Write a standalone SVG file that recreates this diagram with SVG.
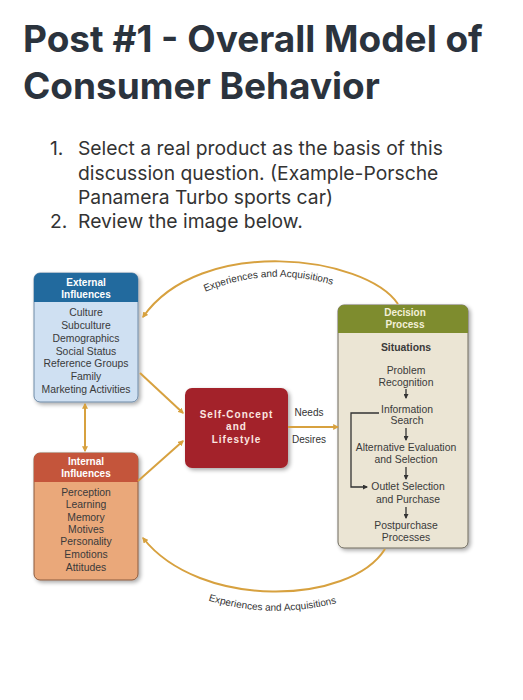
<svg xmlns="http://www.w3.org/2000/svg" width="523" height="700" viewBox="0 0 523 700">
<defs>
<marker id="ag" viewBox="0 0 10 10" refX="8" refY="5" markerWidth="6" markerHeight="6" orient="auto-start-reverse" markerUnits="userSpaceOnUse"><path d="M0,0 L10,5 L0,10 z" fill="#d7a13f"/></marker>
<marker id="ak" viewBox="0 0 10 10" refX="8" refY="5" markerWidth="5" markerHeight="5" orient="auto" markerUnits="userSpaceOnUse"><path d="M0,0 L10,5 L0,10 z" fill="#333"/></marker>
<filter id="sh" x="-10%" y="-10%" width="125%" height="125%"><feGaussianBlur in="SourceAlpha" stdDeviation="2"/><feOffset dx="1.5" dy="2" result="b"/><feComponentTransfer><feFuncA type="linear" slope="0.35"/></feComponentTransfer><feMerge><feMergeNode/><feMergeNode in="SourceGraphic"/></feMerge></filter>
<path id="tp1" d="M 196 296 Q 268 262 342 288"/>
<path id="tp2" d="M 201 598 Q 270 622 344 601"/>
</defs>
<style>
.title{font-family:Inter,"Liberation Sans",sans-serif;font-weight:700;font-size:37px;fill:#2b333d}
.li{font-family:Inter,"Liberation Sans",sans-serif;font-size:19.3px;fill:#333}
.hd{font-family:"Liberation Sans",Arial,sans-serif;font-weight:700;font-size:10px;fill:#fff;text-anchor:middle}
.it{font-family:"Liberation Sans",Arial,sans-serif;font-size:10.4px;fill:#3a3a3a;text-anchor:middle}
.lab{font-family:"Liberation Sans",Arial,sans-serif;font-size:10px;fill:#333}
.gold{fill:none;stroke:#d7a13f;stroke-width:2}
.blk{fill:none;stroke:#333;stroke-width:1.3}
</style>
<rect width="523" height="700" fill="#fff"/>
<text class="title" x="23" y="52">Post #1 - Overall Model of</text>
<text class="title" x="23" y="99">Consumer Behavior</text>
<text class="li" x="50" y="155">1.</text>
<text class="li" x="78" y="155">Select a real product as the basis of this</text>
<text class="li" x="78" y="180">discussion question. (Example-Porsche</text>
<text class="li" x="78" y="204">Panamera Turbo sports car)</text>
<text class="li" x="50" y="228">2.</text>
<text class="li" x="78" y="228">Review the image below.</text>

<g id="external">
<g filter="url(#sh)">
<rect x="34" y="273" width="104" height="129" rx="6" fill="#cfe0f2" stroke="#6e8aa6" stroke-width="1"/>
<path d="M34,302 V279 a6,6 0 0 1 6,-6 H132 a6,6 0 0 1 6,6 V302 Z" fill="#236a9e"/>
</g>
<text class="hd" x="86" y="286">External</text>
<text class="hd" x="86" y="298">Influences</text>
<text class="it" x="86" y="316">Culture</text>
<text class="it" x="86" y="329">Subculture</text>
<text class="it" x="86" y="342">Demographics</text>
<text class="it" x="86" y="355">Social Status</text>
<text class="it" x="86" y="367">Reference Groups</text>
<text class="it" x="86" y="380">Family</text>
<text class="it" x="86" y="393">Marketing Activities</text>
</g>

<g id="internal">
<g filter="url(#sh)">
<rect x="34" y="453" width="104" height="127" rx="6" fill="#eaa87a" stroke="#8a5a3e" stroke-width="1"/>
<path d="M34,482 V459 a6,6 0 0 1 6,-6 H132 a6,6 0 0 1 6,6 V482 Z" fill="#c4553a"/>
</g>
<text class="hd" x="86" y="465">Internal</text>
<text class="hd" x="86" y="477">Influences</text>
<text class="it" x="86" y="496">Perception</text>
<text class="it" x="86" y="508">Learning</text>
<text class="it" x="86" y="521">Memory</text>
<text class="it" x="86" y="533">Motives</text>
<text class="it" x="86" y="545">Personality</text>
<text class="it" x="86" y="558">Emotions</text>
<text class="it" x="86" y="571">Attitudes</text>
</g>

<g id="self">
<rect x="185" y="388" width="103" height="80" rx="7" fill="#a3222a" filter="url(#sh)"/>
<text class="hd" x="236.5" y="418" style="letter-spacing:1px;fill:#fbe6e0">Self-Concept</text>
<text class="hd" x="236.5" y="430" style="letter-spacing:1px;fill:#fbe6e0">and</text>
<text class="hd" x="236.5" y="443" style="letter-spacing:1px;fill:#fbe6e0">Lifestyle</text>
</g>

<g id="decision">
<g filter="url(#sh)">
<rect x="338" y="305" width="130" height="243" rx="6" fill="#ebe5d4" stroke="#6e6a5e" stroke-width="1"/>
<path d="M338,333 V311 a6,6 0 0 1 6,-6 H462 a6,6 0 0 1 6,6 V333 Z" fill="#7e8c2f"/>
</g>
<text class="hd" x="405" y="316" style="fill:#f3f0d8">Decision</text>
<text class="hd" x="405" y="328" style="fill:#f3f0d8">Process</text>
<text class="it" x="406" y="351" style="font-weight:700">Situations</text>
<text class="it" x="406" y="374">Problem</text>
<text class="it" x="406" y="386">Recognition</text>
<text class="it" x="407" y="413">Information</text>
<text class="it" x="407" y="424">Search</text>
<text class="it" x="406" y="451">Alternative Evaluation</text>
<text class="it" x="406" y="463">and Selection</text>
<text class="it" x="408" y="490">Outlet Selection</text>
<text class="it" x="408" y="503">and Purchase</text>
<text class="it" x="406" y="529">Postpurchase</text>
<text class="it" x="406" y="541">Processes</text>
</g>

<g id="connectors">
<path class="gold" d="M 398 304 C 365 255, 200 235, 143 317" marker-end="url(#ag)"/>
<path class="gold" d="M 385 549 C 350 605, 200 610, 143 538" marker-end="url(#ag)"/>
<path class="gold" d="M 140 373 L 183 413" marker-end="url(#ag)"/>
<path class="gold" d="M 138 481 L 183 441" marker-end="url(#ag)"/>
<path class="gold" d="M 85 404 L 85 451" marker-start="url(#ag)" marker-end="url(#ag)"/>
<path class="gold" d="M 288 427 L 338 427" marker-end="url(#ag)"/>
<text class="lab" x="309" y="416" text-anchor="middle">Needs</text>
<text class="lab" x="309" y="443" text-anchor="middle">Desires</text>
<text class="lab"><textPath href="#tp1" startOffset="50%" text-anchor="middle">Experiences and Acquisitions</textPath></text>
<text class="lab"><textPath href="#tp2" startOffset="50%" text-anchor="middle">Experiences and Acquisitions</textPath></text>
<path class="blk" d="M 406 389 L 406 398" marker-end="url(#ak)"/>
<path class="blk" d="M 406 428 L 406 440" marker-end="url(#ak)"/>
<path class="blk" d="M 406 467 L 406 479" marker-end="url(#ak)"/>
<path class="blk" d="M 406 507 L 406 518" marker-end="url(#ak)"/>
<path class="blk" d="M 379 413 L 351 413 L 351 487 L 367 487" marker-end="url(#ak)"/>
</g>
</svg>
